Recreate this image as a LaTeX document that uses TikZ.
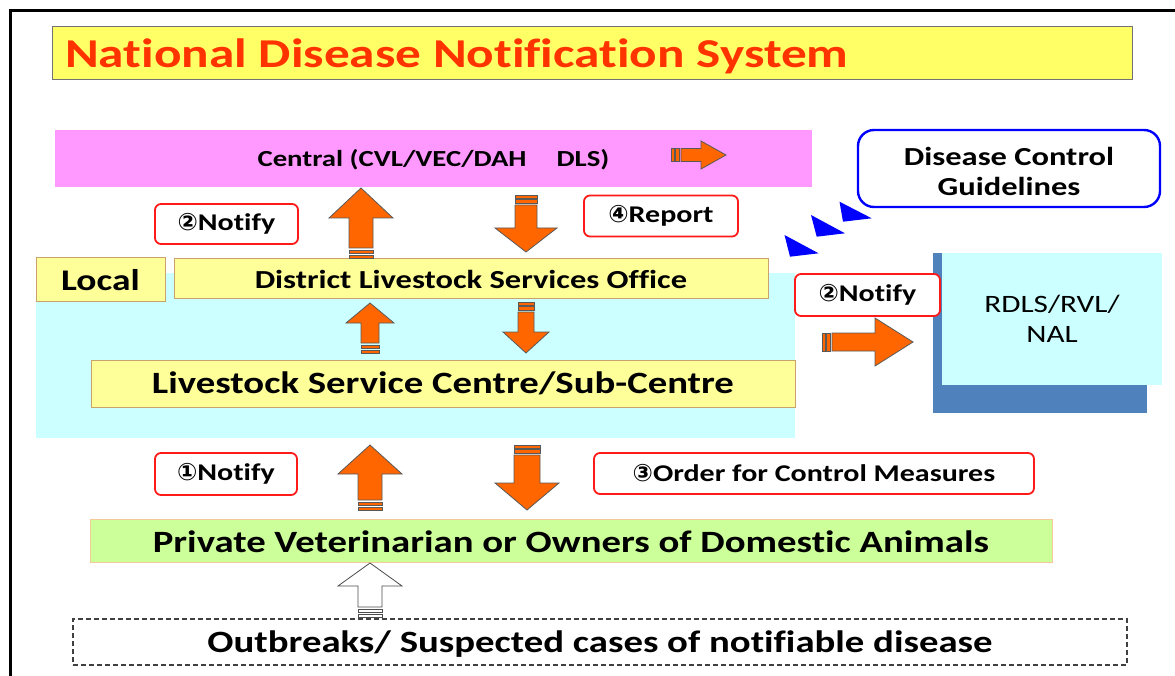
\documentclass[tikz,border=0pt]{standalone}
\usepackage{fontspec}
\setmainfont{Carlito}[FakeStretch=1.25, Ligatures={NoCommon}]
\newfontfamily\dv{DejaVu Sans}
\definecolor{titlefill}{HTML}{FFFF66}
\definecolor{titletext}{HTML}{FF3300}
\definecolor{magenta}{HTML}{FF99FF}
\definecolor{orangefill}{HTML}{FF6600}
\definecolor{arrowline}{HTML}{595959}
\definecolor{yelfill}{HTML}{FFFF99}
\definecolor{yelline}{HTML}{C9A36B}
\definecolor{cyanfill}{HTML}{CCFFFF}
\definecolor{redline}{HTML}{FF1A1A}
\definecolor{blueline}{HTML}{0000FF}
\definecolor{darkblue}{HTML}{4F81BD}
\definecolor{greenfill}{HTML}{CCFF99}
\definecolor{greenline}{HTML}{F5C99A}
\newcommand\cnum[1]{{\dv #1}}
\newcommand\uparr[7][orarrow]{%
 \draw[#1] (#2,#3) -- (#2+#6,#4) -- (#2+#7,#4) -- (#2+#7,#5-10) -- (#2-#7,#5-10) -- (#2-#7,#4) -- (#2-#6,#4) -- cycle;
 \draw[#1] (#2-#7,#5-8) rectangle (#2+#7,#5-4.5);
 \draw[#1] (#2-#7,#5-3) rectangle (#2+#7,#5);
}
\newcommand\downarr[7][orarrow]{%
 \draw[#1] (#2,#5) -- (#2+#6,#4) -- (#2+#7,#4) -- (#2+#7,#3+10) -- (#2-#7,#3+10) -- (#2-#7,#4) -- (#2-#6,#4) -- cycle;
 \draw[#1] (#2-#7,#3) rectangle (#2+#7,#3+3);
 \draw[#1] (#2-#7,#3+4.5) rectangle (#2+#7,#3+8);
}
\newcommand\rightarr[7][orarrow]{%
 \draw[#1] (#5,#2) -- (#4,#2-#6) -- (#4,#2-#7) -- (#3+10,#2-#7) -- (#3+10,#2+#7) -- (#4,#2+#7) -- (#4,#2+#6) -- cycle;
 \draw[#1] (#3,#2-#7) rectangle (#3+3,#2+#7);
 \draw[#1] (#3+4.5,#2-#7) rectangle (#3+8,#2+#7);
}
\tikzset{
 orarrow/.style={fill=orangefill, draw=arrowline, line width=0.8pt, line join=miter},
 whitearrow/.style={fill=white, draw=black!70, line width=0.8pt},
 yelbox/.style={rectangle, fill=yelfill, draw=yelline, line width=1pt, inner sep=0pt, font=\bfseries},
 redbox/.style={rectangle, rounded corners=6pt, draw=redline, fill=white, line width=1.8pt, inner sep=0pt, font=\bfseries\fontsize{24}{28}\selectfont},
 bluetri/.style={fill=blueline, draw=none},
 lbl/.style={inner sep=0pt},
}
\begin{document}
\begin{tikzpicture}[x=1pt,y=-1pt]
\useasboundingbox (0,0) rectangle (1175,676);
\fill[white] (0,0) rectangle (1175,676);
% outer frame
\draw[line width=3pt] (10,676) -- (10,10.5) -- (1175,10.5);
% title
\node[rectangle, fill=titlefill, draw=black!55, line width=1pt, minimum width=1080pt, minimum height=53pt, inner sep=0pt] (title) at (592,53.5) {};
\node[lbl, anchor=base west, text=titletext, font=\bfseries\fontsize{41}{46}\selectfont] (titletext) at (65,68) {National Disease Notification System};
% cyan local region
\fill[cyanfill] (36,273) rectangle (795,438);
% central
\node[rectangle, fill=magenta, minimum width=757pt, minimum height=57pt, inner sep=0pt] (central) at (433.5,158.5) {};
\node[lbl, anchor=base, font=\bfseries\fontsize{23}{27}\selectfont] (centraltext) at (433.5,167) {Central (CVL/VEC/DAH\hspace{30pt}DLS)};
% disease control guidelines
\node[rectangle, rounded corners=16pt, draw=blueline, line width=2.4pt, fill=white, minimum width=302pt, minimum height=77pt, inner sep=0pt] (dcg) at (1009,168.5) {};
\node[lbl, align=center, font=\bfseries\fontsize{26}{30}\selectfont] (dcgtext) at (1009,171) {Disease Control\\Guidelines};
% blue triangles
\fill[bluetri] (784.5,235) -- (790,256.7) -- (818.6,253.3) -- cycle;
\fill[bluetri] (811,215) -- (816.7,236.7) -- (845,233.3) -- cycle;
\fill[bluetri] (839.5,201.7) -- (843,221.7) -- (871.7,218.3) -- cycle;
% labels
\node[redbox, minimum width=143pt, minimum height=40pt] (notifyA) at (226.5,224) {\cnum{②}Notify};
\node[redbox, minimum width=154pt, minimum height=41pt] (report) at (661,216) {\cnum{④}Report};
% local / district / lsc
\node[yelbox, minimum width=129pt, minimum height=44pt, font=\bfseries\fontsize{30}{34}\selectfont] (local) at (100.5,280) {Local};
\node[yelbox, minimum width=594pt, minimum height=40pt, font=\bfseries\fontsize{26}{30}\selectfont] (district) at (471,279) {District Livestock Services Office};
\node[yelbox, minimum width=704pt, minimum height=47pt, font=\bfseries\fontsize{31}{35}\selectfont] (lsc) at (443,383.5) {Livestock Service Centre/Sub-Centre};
% RDLS
\fill[darkblue] (933,253) rectangle (1147,413);
\node[rectangle, fill=cyanfill, minimum width=220pt, minimum height=131pt, inner sep=0pt, align=center, font=\fontsize{25}{30}\selectfont] (rdls) at (1052,319) {RDLS/RVL/\\NAL};
\node[redbox, minimum width=145pt, minimum height=42pt] (notifyB) at (867.5,295) {\cnum{②}Notify};
% bottom
\node[redbox, minimum width=142pt, minimum height=42pt] (notifyC) at (226,474) {\cnum{①}Notify};
\node[redbox, minimum width=440pt, minimum height=41pt] (order) at (814,473.5) {\cnum{③}Order for Control Measures};
\node[rectangle, fill=greenfill, draw=greenline, line width=1pt, minimum width=962pt, minimum height=43pt, inner sep=0pt] (private) at (571,540.5) {};
\node[lbl, anchor=base, font=\bfseries\fontsize{31}{36}\selectfont] (privatetext) at (571,552.5) {Private Veterinarian or Owners of Domestic Animals};
\node[rectangle, draw=black!75, dash pattern=on 5pt off 3pt, line width=1.3pt, minimum width=1054pt, minimum height=46pt, inner sep=0pt] (outbreak) at (600,642) {};
\node[lbl, anchor=base, font=\bfseries\fontsize{31}{36}\selectfont] (outbreaktext) at (600,652) {Outbreaks/ Suspected cases of notifiable disease};
% arrows
\uparr{361}{188}{218}{258}{32}{12}
\downarr{526}{195}{228}{252}{31}{11}
\uparr{370}{303}{323}{353}{24}{9}
\downarr{526}{302}{332}{353}{23}{8}
\uparr{370}{445}{474}{510}{32}{12}
\downarr{527}{445}{483}{510}{32}{13}
\uparr[whitearrow]{370}{563}{586}{617}{32}{12}
\rightarr{342}{822}{875}{913}{24}{9}
\rightarr{155}{671}{701}{726}{14}{6.5}
\end{tikzpicture}
\end{document}
